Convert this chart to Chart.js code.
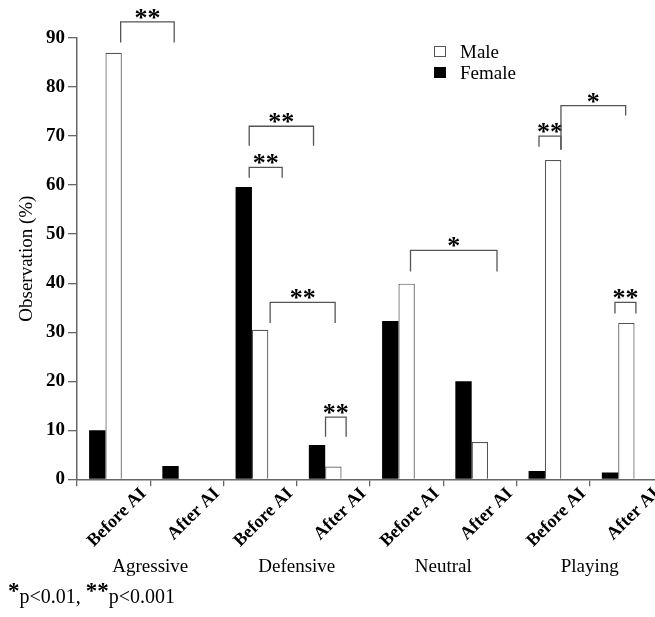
<!DOCTYPE html>
<html>
<head>
<meta charset="utf-8">
<script src="https://cdn.jsdelivr.net/npm/chart.js@4/dist/chart.umd.min.js"></script>
<style>
html, body { margin:0; padding:0; background:#fff; overflow:hidden; }
#wrap { position:relative; width:655px; height:617px; overflow:hidden; }
#c { position:absolute; left:0; top:0; }
#legend { position:absolute; left:434px; top:41px; font:19px "Liberation Serif", serif; color:#000; }
#legend .row { display:flex; align-items:center; height:21px; }
#legend .box { width:10px; height:9px; border:1px solid #555; margin-right:14px; }
#note { position:absolute; left:8px; top:586px; font:20px "Liberation Serif", serif; line-height:20px; color:#000; }
#note b { font-size:23px; position:relative; top:-5px; }
</style>
</head>
<body>
<div id="wrap">
  <canvas id="c" width="672" height="617"></canvas>
  <div id="legend"></div>
  <div id="note"><b>*</b>p&lt;0.01, <b>**</b>p&lt;0.001</div>
</div>
<script>
// =======================
// DATA
// =======================
const categories = ['Before AI', 'After AI', 'Before AI', 'After AI', 'Before AI', 'After AI', 'Before AI', 'After AI'];
const groups = ['Agressive', 'Defensive', 'Neutral', 'Playing'];
const female = [10.0, 2.7, 59.6, 7.0, 32.3, 20.0, 1.7, 1.4];
const male = [87.0, 0, 30.5, 2.6, 39.9, 7.6, 65.1, 31.9];
const spacer = [null, null, null, null, null, null, null, null];

// significance brackets: x in category units, y in %
const brackets = [
    { from: 0.096, to: 0.827, top: 93.3, left: 89.1, right: 89.1, text: '**' },
    { from: 1.851, to: 2.729, top: 72.0, left: 68.0, right: 68.0, text: '**' },
    { from: 1.851, to: 2.301, top: 63.6, left: 61.5, right: 61.5, text: '**' },
    { from: 2.137, to: 3.024, top: 36.1, left: 31.9, right: 31.9, text: '**' },
    { from: 2.893, to: 3.174, top: 12.7, left: 8.7, right: 8.7, text: '**' },
    { from: 4.053, to: 5.234, top: 46.7, left: 42.4, right: 42.4, text: '*' },
    { from: 5.807, to: 6.107, top: 70.0, left: 67.8, right: 67.2, text: '**' },
    { from: 6.107, to: 6.990, top: 76.2, left: 67.2, right: 74.2, text: '*' },
    { from: 6.844, to: 7.130, top: 36.1, left: 33.8, right: 33.8, text: '**' }
];

const serif = '"Liberation Serif", "Times New Roman", serif';

// =======================
// BRACKETS
// =======================
const bracketPlugin = {
    id: 'brackets',
    afterDraw(chart) {
        const ctx = chart.ctx;
        const x = chart.scales.x, y = chart.scales.y;
        ctx.save();
        ctx.strokeStyle = '#555';
        ctx.lineWidth = 1.3;
        ctx.fillStyle = '#000';
        ctx.font = 'bold 26px ' + serif;
        ctx.textAlign = 'center';
        ctx.textBaseline = 'alphabetic';
        brackets.forEach(b => {
            const x1 = x.getPixelForValue(b.from);
            const x2 = x.getPixelForValue(b.to);
            const top = y.getPixelForValue(b.top);
            ctx.beginPath();
            ctx.moveTo(x1, y.getPixelForValue(b.left));
            ctx.lineTo(x1, top);
            ctx.lineTo(x2, top);
            ctx.lineTo(x2, y.getPixelForValue(b.right));
            ctx.stroke();
            const m = ctx.measureText(b.text);
            const cy = top - 8;
            ctx.fillText(b.text, (x1 + x2) / 2, cy + (m.actualBoundingBoxAscent - m.actualBoundingBoxDescent) / 2);
        });
        ctx.restore();
    }
};

// =======================
// CHART
// =======================
const chart = new Chart(document.getElementById('c'), {
    type: 'bar',
    data: {
        labels: categories,
        datasets: [
            { label: 'Female', data: female, xAxisID: 'x', backgroundColor: '#000', borderColor: '#000', borderWidth: 0 },
            { label: 'Male', data: male, xAxisID: 'x', backgroundColor: '#fff', borderColor: '#555', borderWidth: 1.2 },
            { label: '', data: spacer, xAxisID: 'x', backgroundColor: 'rgba(0,0,0,0)' }
        ]
    },
    options: {
        responsive: false,
        animation: false,
        devicePixelRatio: 1,
        layout: { padding: { top: 38, right: 9, left: 0, bottom: 0 } },
        datasets: { bar: { categoryPercentage: 0.67, barPercentage: 1 } },
        plugins: { legend: { display: false }, tooltip: { enabled: false } },
        scales: {
            y: {
                min: 0, max: 90,
                ticks: { stepSize: 10, color: '#000', padding: 3, font: { family: serif, size: 19, weight: 'bold' } },
                grid: { drawOnChartArea: false, tickLength: 9, color: '#666', lineWidth: 1.3 },
                border: { color: '#666', width: 1.5 },
                title: { display: true, text: 'Observation (%)', color: '#000', padding: { top: 16, bottom: 0 }, font: { family: serif, size: 19 } },
                afterFit(s) { s.width = 77; }
            },
            x: {
                weight: 0,
                ticks: { minRotation: 45, maxRotation: 45, autoSkip: false, labelOffset: 30, padding: -3, color: '#000', font: { family: serif, size: 18, weight: 'bold' } },
                grid: { drawOnChartArea: false, tickLength: 7, color: '#666', lineWidth: 1.3 },
                border: { color: '#666', width: 1.5 },
                afterFit(s) { s.height = 76; }
            },
            xg: {
                type: 'category',
                labels: groups,
                position: 'bottom',
                weight: 1,
                offset: true,
                grid: { display: false, drawTicks: false },
                border: { display: false },
                ticks: { maxRotation: 0, padding: 0, color: '#000', font: { family: serif, size: 19 } },
                afterFit(s) { s.height = 61.7; }
            }
        }
    },
    plugins: [bracketPlugin]
});

// =======================
// LEGEND
// =======================
const legend = document.getElementById('legend');
chart.data.datasets.filter(d => d.label).reverse().forEach(d => {
    const row = document.createElement('div');
    row.className = 'row';
    const box = document.createElement('span');
    box.className = 'box';
    box.style.background = d.backgroundColor;
    box.style.borderColor = d.label === 'Female' ? '#000' : '#555';
    const txt = document.createElement('span');
    txt.textContent = d.label;
    row.appendChild(box);
    row.appendChild(txt);
    legend.appendChild(row);
});
</script>
</body>
</html>
